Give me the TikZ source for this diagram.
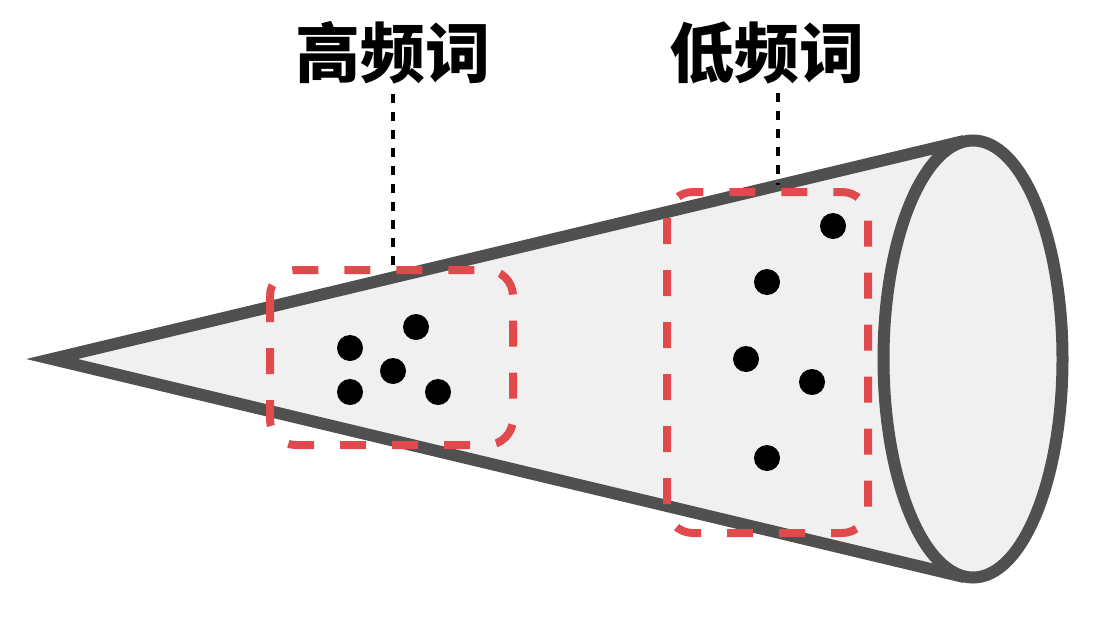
\documentclass[tikz,border=0pt]{standalone}
\usepackage{fontspec}
\newfontfamily\cjk{Noto Sans CJK SC}
\usetikzlibrary{positioning, calc}
\definecolor{conegray}{HTML}{505050}
\definecolor{conefill}{HTML}{F0F0F0}
\definecolor{boxred}{HTML}{E04A4D}

\begin{document}
\begin{tikzpicture}[x=1pt, y=-1pt,
    every node/.style={font=\cjk\bfseries\fontsize{65}{65}\selectfont, inner sep=9pt},
    redbox/.style={draw=boxred, line width=8pt, dash pattern=on 26pt off 26pt, rounded corners=26pt},
    leader/.style={draw=black, line width=4pt, dash pattern=on 9pt off 9pt}]
        \useasboundingbox (0,0) rectangle (1094,616);

        % Cone
        \coordinate (apex) at (52,359);
        \coordinate (ctop) at (964,141);
        \coordinate (cbot) at (964,577);
        \fill[conefill] (apex) -- (ctop) -- (cbot) -- cycle;
        \draw[conegray, line width=12pt, line join=miter] (ctop) -- (apex) -- (cbot);
        \filldraw[fill=conefill, draw=conegray, line width=12pt] (973,359) ellipse [x radius=89.5, y radius=218.5];

        % Frequency regions
        \draw[redbox] (270,270) rectangle (513,445);
        \draw[redbox] (667,192) rectangle (868,533);

        % Words
        \foreach \p in {(350,348), (416,327), (393,371), (350,392), (438,392),
                        (833,226), (767,282), (746,359), (812,382), (767,458)}
            \fill \p circle (13);

        % Labels
        \node (hi) at (393,53) {高频词};
        \node (lo) at (767,53) {低频词};
        \coordinate (hiEnd) at (393,266);
        \coordinate (loEnd) at (778,185);
        \draw[leader] (hiEnd |- hi.south) -- (hiEnd);
        \draw[leader] (loEnd |- lo.south) -- (loEnd);
\end{tikzpicture}
\end{document}
